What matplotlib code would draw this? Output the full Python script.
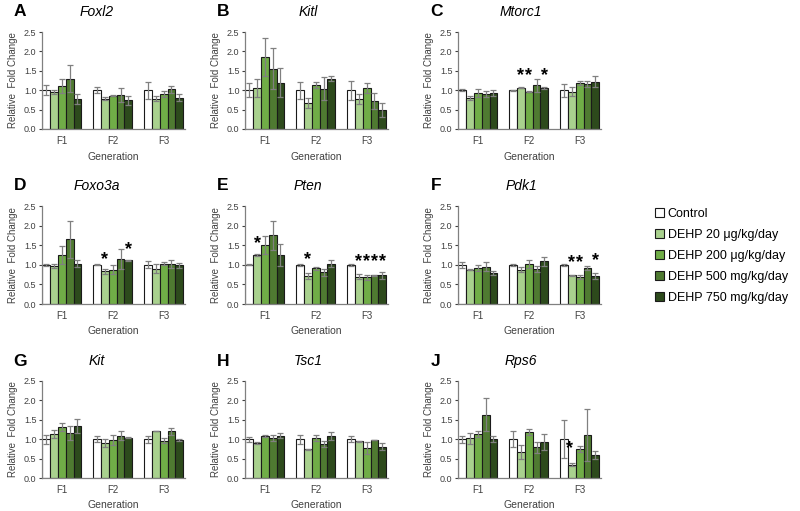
import matplotlib
matplotlib.use('Agg')
import matplotlib.pyplot as plt
from matplotlib.patches import Patch
import numpy as np

plt.rcParams['font.family'] = ['Liberation Sans', 'DejaVu Sans']

genes = ['Foxl2', 'Kitl', 'Mtorc1', 'Foxo3a', 'Pten', 'Pdk1', 'Kit', 'Tsc1', 'Rps6']
letters = ['A', 'B', 'C', 'D', 'E', 'F', 'G', 'H', 'J']
generations = ['F1', 'F2', 'F3']
treatments = ['Control', 'DEHP 20 μg/kg/day', 'DEHP 200 μg/kg/day',
              'DEHP 500 mg/kg/day', 'DEHP 750 mg/kg/day']
colors = ['#ffffff', '#a9d18e', '#70ad47', '#4f7a31', '#2d4a1c']

# mean[generation][treatment], err[generation][treatment]
foxl2_mean = [[1.00, 0.96, 1.11, 1.30, 0.78], [1.00, 0.78, 0.86, 0.88, 0.74], [1.00, 0.78, 0.90, 1.02, 0.81]]
foxl2_err = [[0.13, 0.05, 0.19, 0.34, 0.13], [0.07, 0.04, 0.01, 0.18, 0.11], [0.22, 0.06, 0.08, 0.10, 0.08]]
kitl_mean = [[1.00, 1.05, 1.86, 1.55, 1.19], [1.00, 0.67, 1.13, 1.04, 1.30], [1.00, 0.77, 1.06, 0.72, 0.48]]
kitl_err = [[0.18, 0.23, 0.49, 0.53, 0.37], [0.22, 0.12, 0.08, 0.30, 0.07], [0.24, 0.13, 0.12, 0.20, 0.18]]
mtorc1_mean = [[1.00, 0.81, 0.92, 0.90, 0.92], [1.00, 1.06, 0.96, 1.13, 1.06], [1.00, 0.96, 1.18, 1.15, 1.22]]
mtorc1_err = [[0.03, 0.05, 0.10, 0.08, 0.08], [0.01, 0.01, 0.01, 0.17, 0.03], [0.17, 0.11, 0.05, 0.08, 0.14]]
foxo3a_mean = [[1.00, 0.97, 1.25, 1.65, 1.03], [1.00, 0.83, 0.88, 1.15, 1.11], [1.00, 0.90, 1.03, 1.02, 0.99]]
foxo3a_err = [[0.02, 0.06, 0.22, 0.48, 0.08], [0.01, 0.07, 0.12, 0.26, 0.01], [0.09, 0.12, 0.03, 0.10, 0.06]]
pten_mean = [[1.00, 1.25, 1.50, 1.75, 1.24], [1.00, 0.72, 0.91, 0.81, 1.03], [1.00, 0.70, 0.68, 0.73, 0.73]]
pten_err = [[0.01, 0.03, 0.23, 0.36, 0.28], [0.03, 0.07, 0.03, 0.09, 0.08], [0.02, 0.06, 0.06, 0.01, 0.08]]
pdk1_mean = [[1.00, 0.88, 0.92, 0.95, 0.79], [1.00, 0.88, 1.02, 0.90, 1.09], [1.00, 0.73, 0.69, 0.92, 0.71]]
pdk1_err = [[0.07, 0.02, 0.07, 0.11, 0.06], [0.02, 0.06, 0.10, 0.08, 0.12], [0.02, 0.01, 0.06, 0.06, 0.07]]
kit_mean = [[1.00, 1.14, 1.31, 1.16, 1.34], [1.00, 0.91, 0.98, 1.09, 1.04], [1.00, 1.21, 0.96, 1.20, 0.98]]
kit_err = [[0.12, 0.10, 0.10, 0.17, 0.17], [0.07, 0.10, 0.13, 0.12, 0.02], [0.09, 0.00, 0.06, 0.09, 0.02]]
tsc1_mean = [[1.00, 0.90, 1.09, 1.03, 1.09], [1.00, 0.74, 1.03, 0.87, 1.09], [1.00, 0.95, 0.77, 0.98, 0.81]]
tsc1_err = [[0.06, 0.03, 0.03, 0.08, 0.06], [0.12, 0.02, 0.07, 0.08, 0.10], [0.08, 0.01, 0.15, 0.01, 0.08]]
rps6_mean = [[1.00, 1.02, 1.13, 1.63, 1.00], [1.00, 0.67, 1.19, 0.79, 0.92], [1.00, 0.34, 0.74, 1.11, 0.59]]
rps6_err = [[0.09, 0.15, 0.08, 0.43, 0.07], [0.21, 0.17, 0.07, 0.14, 0.21], [0.49, 0.04, 0.08, 0.66, 0.10]]

means = [foxl2_mean, kitl_mean, mtorc1_mean, foxo3a_mean, pten_mean, pdk1_mean, kit_mean, tsc1_mean, rps6_mean]
errs = [foxl2_err, kitl_err, mtorc1_err, foxo3a_err, pten_err, pdk1_err, kit_err, tsc1_err, rps6_err]

# significance stars: (panel index, generation index, treatment index, y)
stars = [(2, 1, 1, 1.37), (2, 1, 2, 1.37), (2, 1, 4, 1.37),
         (3, 1, 1, 1.14), (3, 1, 4, 1.38),
         (4, 0, 1, 1.54), (4, 1, 1, 1.14),
         (4, 2, 1, 1.08), (4, 2, 2, 1.08), (4, 2, 3, 1.08), (4, 2, 4, 1.08),
         (5, 2, 1, 1.05), (5, 2, 2, 1.05), (5, 2, 4, 1.11),
         (8, 2, 1, 0.77)]

W, H = 800, 511
fig = plt.figure(figsize=(W / 100, H / 100), dpi=100)

col_left = [42, 245, 458]
row_bottom = [129, 304, 478]
row_top = [32, 206, 381]
ax_w = 143
bw = 0.153
axes = []
for i in range(9):
    r, c = divmod(i, 3)
    left = col_left[c] / W
    bottom = 1 - row_bottom[r] / H
    height = (row_bottom[r] - row_top[r]) / H
    ax = fig.add_axes([left, bottom, ax_w / W, height])
    axes.append(ax)
    m = np.array(means[i])
    e = np.array(errs[i])
    x = np.arange(3)
    for k in range(5):
        ax.bar(x + (k - 2) * bw, m[:, k], width=bw, color=colors[k], edgecolor='#1a1a1a',
               linewidth=0.8, zorder=2)
        ax.errorbar(x + (k - 2) * bw, m[:, k], yerr=e[:, k], fmt='none', ecolor='#808080',
                    elinewidth=0.9, capsize=2.2, capthick=0.9, zorder=3)
    ax.set_xlim(-0.39, 2.42)
    ax.set_ylim(0, 2.5)
    ax.set_yticks([0, 0.5, 1.0, 1.5, 2.0, 2.5])
    ax.set_yticklabels(['0.0', '0.5', '1.0', '1.5', '2.0', '2.5'])
    ax.set_xticks(x)
    ax.set_xticklabels(generations)
    ax.tick_params(axis='y', labelsize=6.5, length=2.5, width=0.8, colors='#404040', pad=1.5)
    ax.tick_params(axis='x', labelsize=7, length=0, colors='#404040', pad=5)
    for s in ['top', 'right']:
        ax.spines[s].set_visible(False)
    for s in ['left', 'bottom']:
        ax.spines[s].set_color('#808080')
        ax.spines[s].set_linewidth(0.9)
    ax.set_ylabel('Relative  Fold Change', fontsize=7, color='#404040', labelpad=4)
    ax.set_xlabel('Generation', fontsize=7.5, color='#404040', labelpad=4)
    # letter and title
    ty = 1 - (row_top[r] - 20) / H
    fig.text((col_left[c] - 22) / W, ty, letters[i], fontsize=12.5, fontweight='bold',
             ha='center', va='center')
    tx = col_left[c] + (55 if c == 0 else 63)
    fig.text(tx / W, ty, genes[i], fontsize=10, fontstyle='italic', ha='center', va='center')

for (p, g, k, y) in stars:
    dx = -0.04 if p == 8 else 0
    axes[p].text(g + (k - 2) * bw + dx, y, '*', fontsize=13, fontweight='bold',
                 ha='center', va='center', zorder=4)

handles = [Patch(facecolor=colors[k], edgecolor='#1a1a1a', linewidth=0.8) for k in range(5)]
fig.legend(handles, treatments, loc='center left', bbox_to_anchor=(0.812, 0.50),
           frameon=False, fontsize=9, handlelength=0.75, handleheight=0.75,
           handletextpad=0.3, labelspacing=0.72, borderaxespad=0)

fig.savefig('out.png', dpi=100)
